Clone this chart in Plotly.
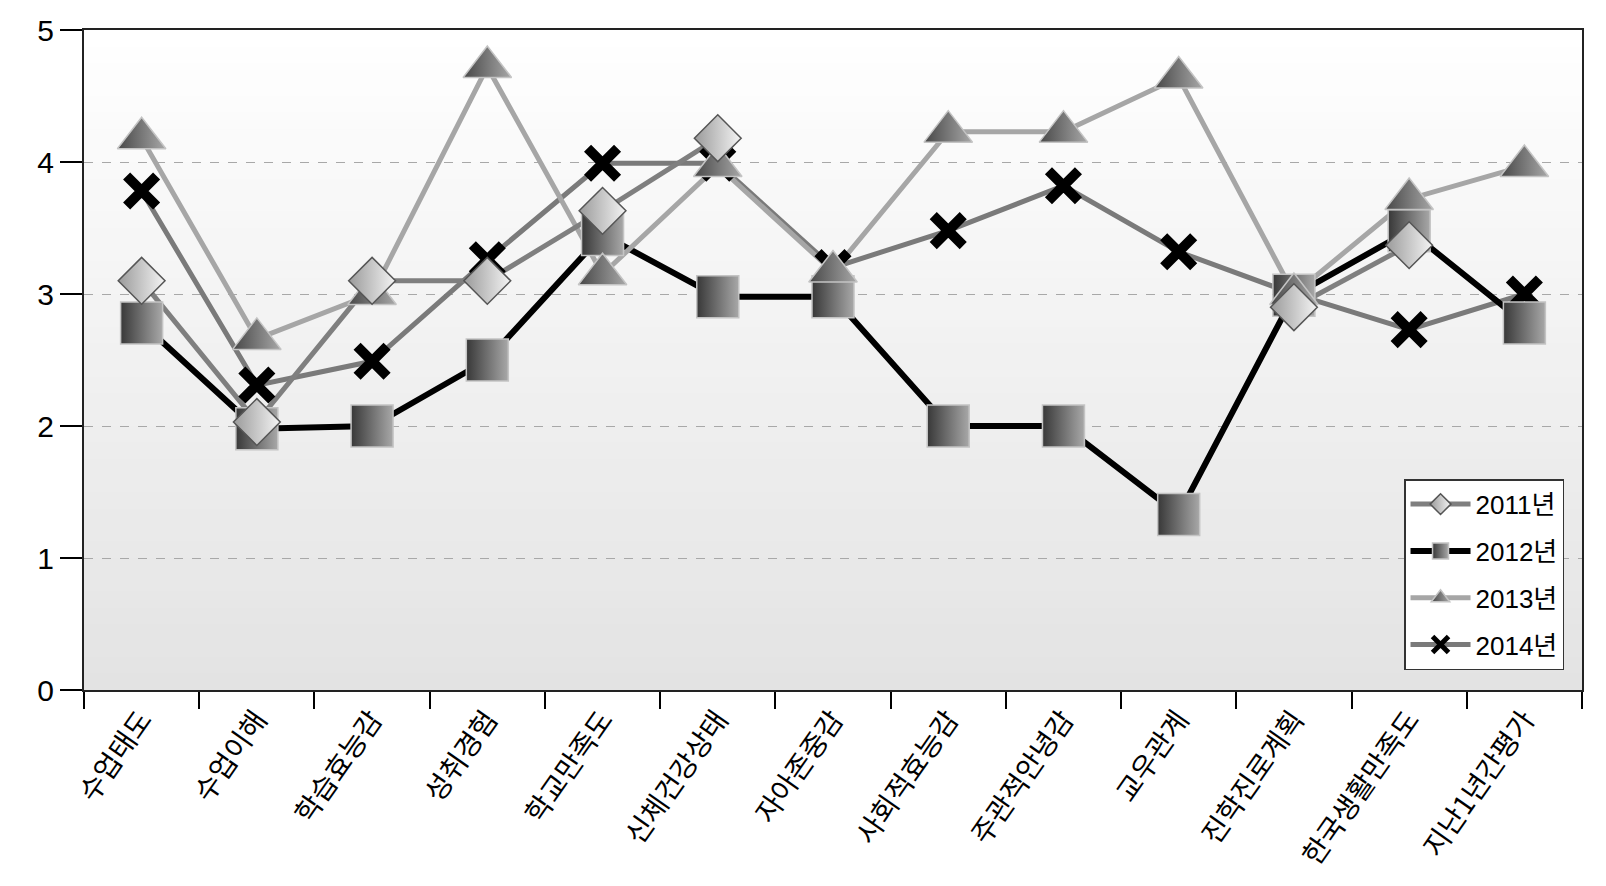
import plotly.graph_objects as go

categories = ["수업태도", "수업이해", "학습효능감", "성취경험", "학교만족도", "신체건강상태",
              "자아존중감", "사회적효능감", "주관적안녕감", "교우관계", "진학진로계획",
              "한국생활만족도", "지난1년간평가"]
y2011 = [3.1, 2.03, 3.1, 3.1, 3.63, 4.18, None, None, None, None, 2.9, 3.37, None]
y2012 = [2.78, 1.98, 2.0, 2.5, 3.45, 2.98, 2.98, 2.0, 2.0, 1.33, 2.99, 3.48, 2.78]
y2013 = [4.18, 2.66, 3.0, 4.72, 3.15, 3.97, 3.17, 4.23, 4.23, 4.64, 3.0, 3.72, 3.97]
y2014 = [3.78, 2.31, 2.49, 3.26, 3.99, 3.99, 3.2, 3.48, 3.82, 3.32, 3.0, 2.73, 3.0]
y_ticks = [0, 1, 2, 3, 4, 5]

series = {
    "2011년": dict(y=y2011, lc="#7f7f7f", lw=5,
                  marker=dict(symbol="diamond", size=36, color="#9a9a9a",
                              gradient=dict(type="horizontal", color="#f4f4f4"),
                              line=dict(color="#555555", width=1.5))),
    "2012년": dict(y=y2012, lc="#000000", lw=6,
                  marker=dict(symbol="square", size=42, color="#383838",
                              gradient=dict(type="horizontal", color="#a8a8a8"),
                              line=dict(color="#c4c4c4", width=1.5))),
    "2013년": dict(y=y2013, lc="#a6a6a6", lw=5,
                  marker=dict(symbol="triangle-up", size=42, color="#474747",
                              gradient=dict(type="horizontal", color="#a8a8a8"),
                              line=dict(color="#c4c4c4", width=1.5))),
    "2014년": dict(y=y2014, lc="#7a7a7a", lw=5,
                  marker=dict(symbol="x-thin", size=30, color="#000000",
                              line=dict(color="#000000", width=10))),
}

draw_order = ["2014년", "2012년", "2013년", "2011년"]

fig = go.Figure()

for name in draw_order:
    s = series[name]
    fig.add_trace(go.Scatter(x=categories, y=s["y"], mode="lines", showlegend=False,
                             line=dict(color=s["lc"], width=s["lw"]), hoverinfo="skip"))
for name in draw_order:
    s = series[name]
    fig.add_trace(go.Scatter(x=categories, y=s["y"], mode="markers", showlegend=False,
                             marker=s["marker"], name=name))
for i, name in enumerate(["2011년", "2012년", "2013년", "2014년"]):
    s = series[name]
    fig.add_trace(go.Scatter(x=[None], y=[None], mode="lines+markers", name=name,
                             legendgroup=str(i),
                             line=dict(color=s["lc"], width=s["lw"]), marker=s["marker"]))

# background gradient bands (decoration)
n = 40
for i in range(n):
    t = i / n
    g = int(round(0xe3 + (0xff - 0xe3) * (t + 0.5 / n)))
    g = min(g, 255)
    col = f"rgb({g},{g},{g})"
    fig.add_shape(type="rect", xref="x domain", yref="y domain",
                  x0=0, x1=1, y0=t, y1=t + 1.0 / n + 0.002,
                  fillcolor=col, line=dict(width=0), layer="below")

font_main = "Arial, Liberation Sans, Noto Sans CJK KR, sans-serif"

fig.update_layout(
    width=1606, height=886,
    margin=dict(l=84, r=24, t=30, b=196),
    paper_bgcolor="white", plot_bgcolor="white",
    font=dict(family=font_main, size=26, color="black"),
    legend=dict(x=0.988, y=0.03, xanchor="right", yanchor="bottom",
                bgcolor="white", bordercolor="#333333", borderwidth=1.5,
                font=dict(size=26, family=font_main), tracegroupgap=10,
                itemwidth=60),
    xaxis=dict(type="category", range=[-0.5, 12.5], tickson="boundaries",
               ticks="outside", ticklen=17,
               tickwidth=1.5, tickcolor="black", tickangle=-55,
               tickfont=dict(family="Noto Sans CJK KR", size=28),
               showgrid=False, showline=True, linecolor="#222222", linewidth=2,
               mirror=True, zeroline=False),
    yaxis=dict(range=[0, 5], tickvals=y_ticks, ticks="outside", ticklen=22,
               tickwidth=1.5, tickcolor="black",
               tickfont=dict(family=font_main, size=30),
               showgrid=True, gridcolor="#a8a8a8", griddash="dash", gridwidth=1,
               showline=True, linecolor="#222222", linewidth=2, mirror=True,
               zeroline=False),
)

fig.write_html("out.html")
